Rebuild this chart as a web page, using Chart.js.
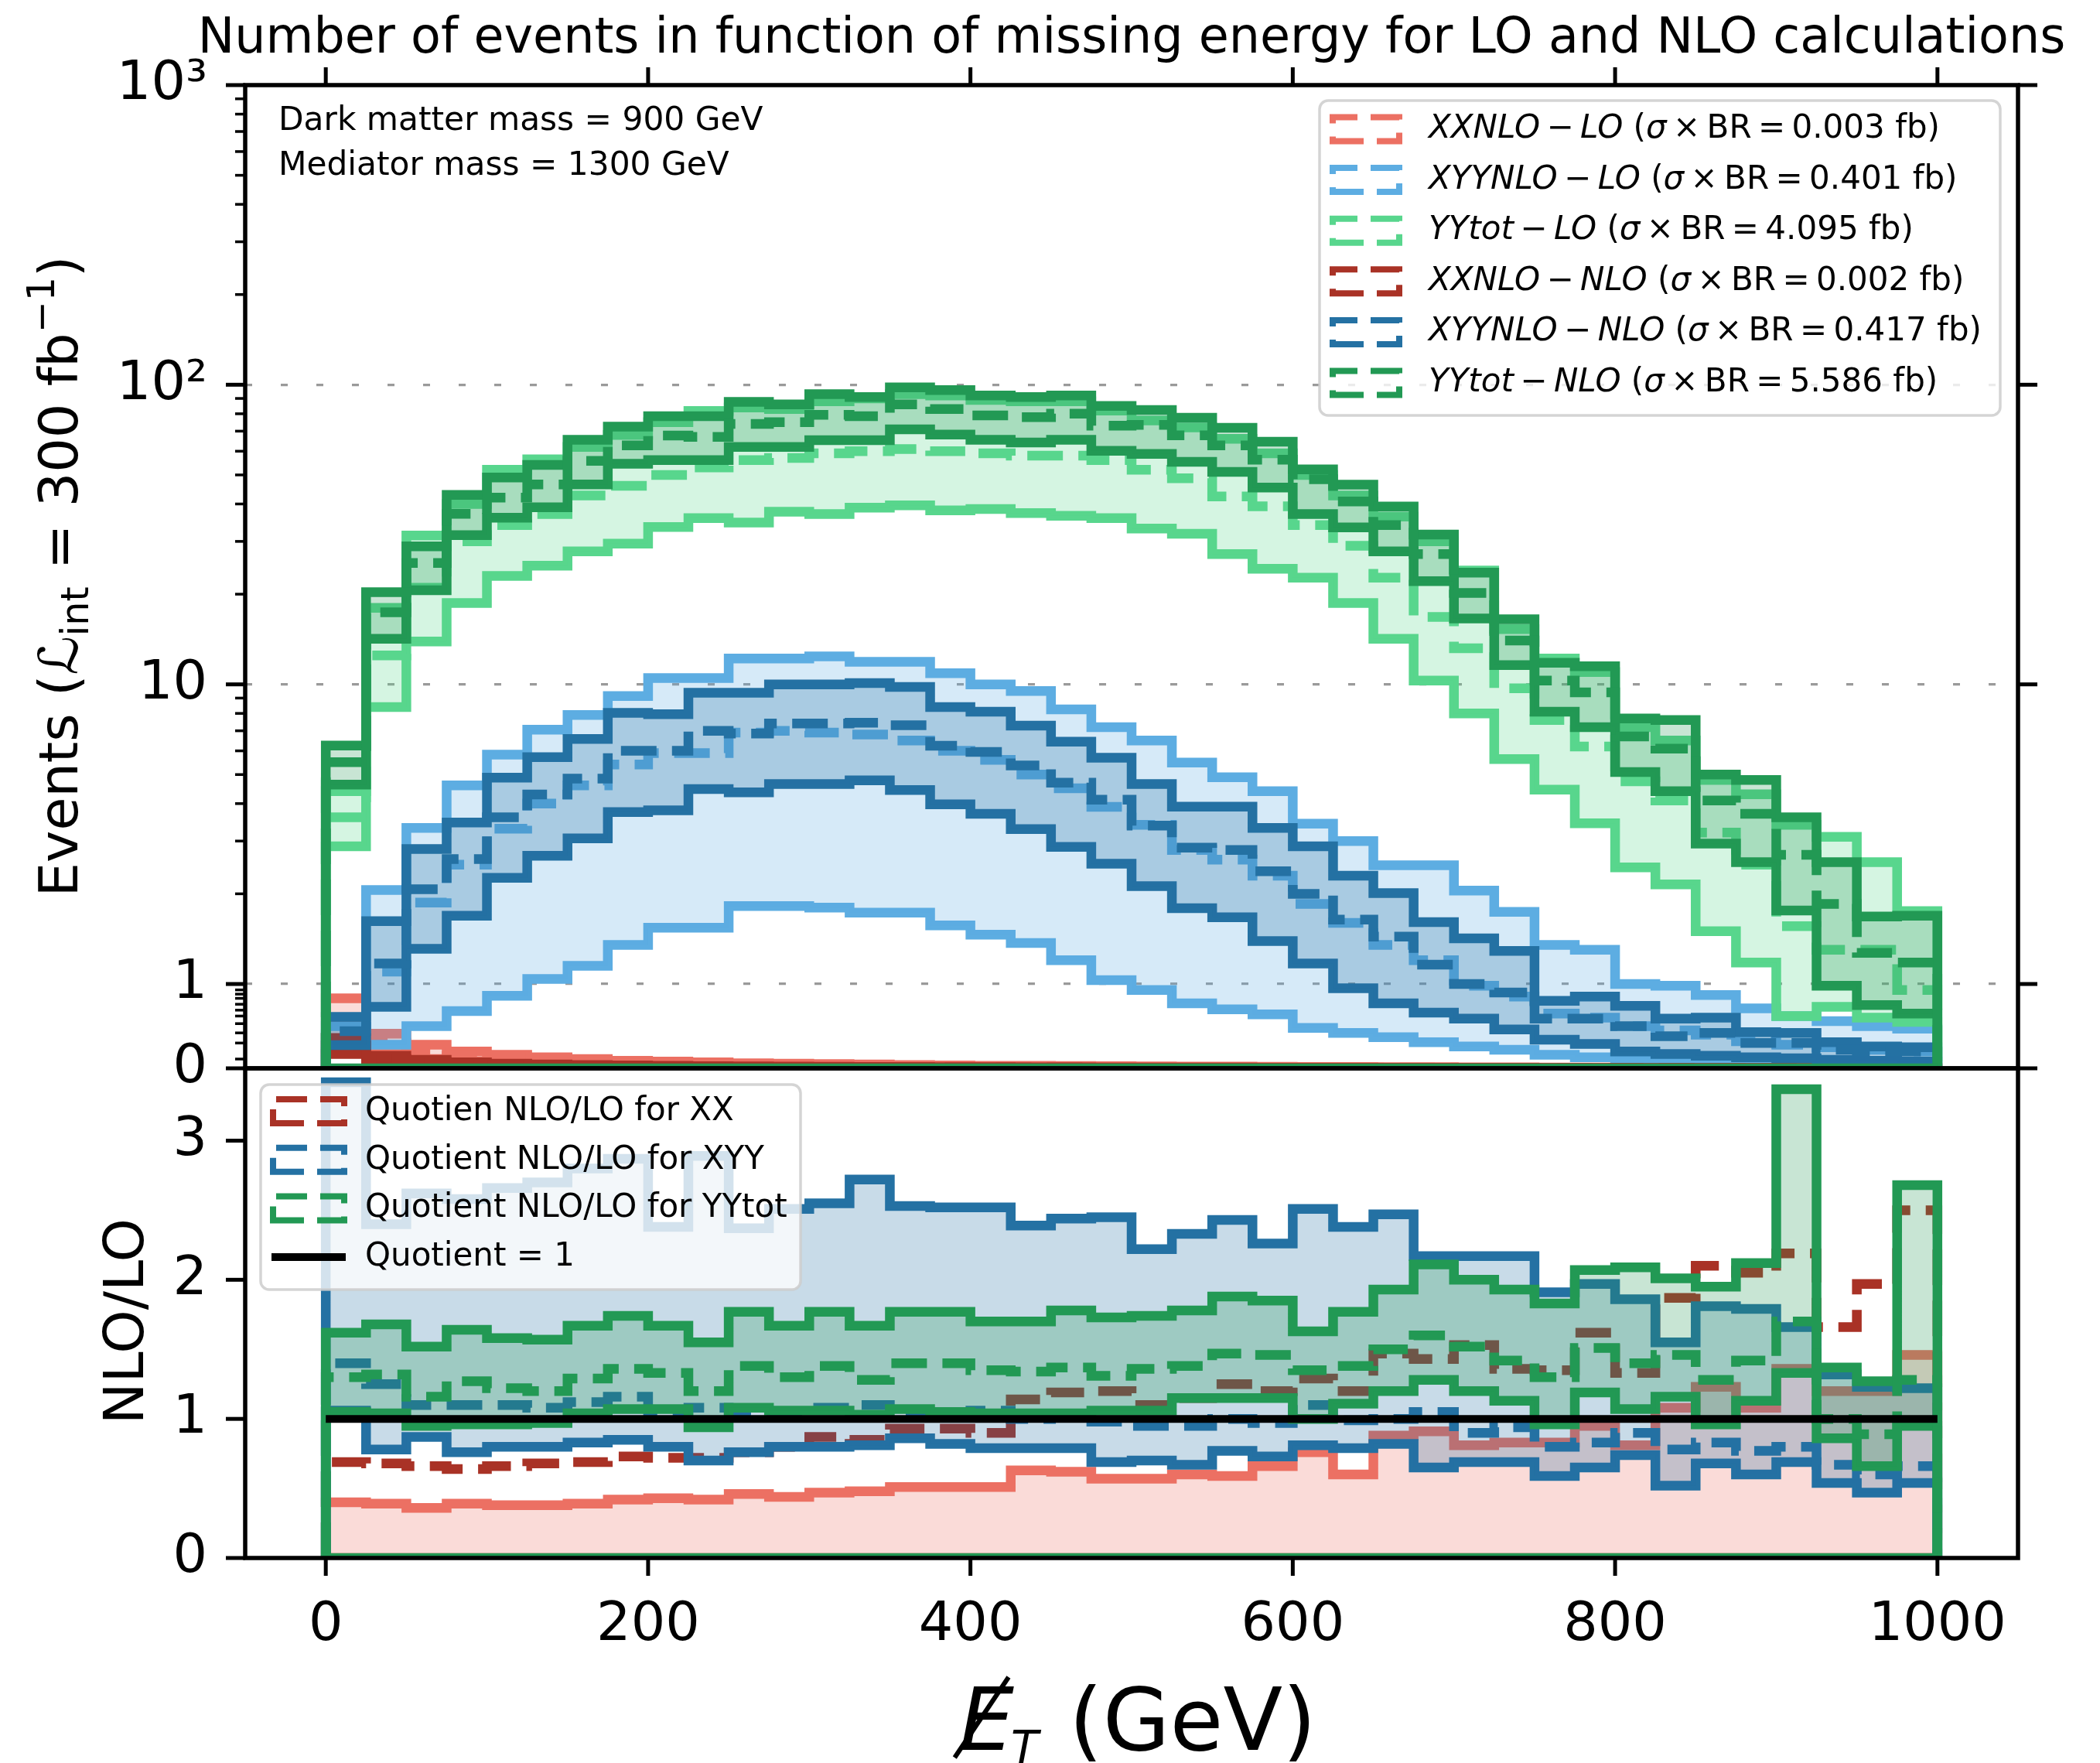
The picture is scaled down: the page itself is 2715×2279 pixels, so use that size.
<!DOCTYPE html>
<html><head><meta charset="utf-8">
<script src="https://cdn.jsdelivr.net/npm/chart.js@4.4.1/dist/chart.umd.min.js"></script>
<style>
html,body{margin:0;padding:0;background:#fff;}
body{width:2715px;height:2279px;position:relative;overflow:hidden;}
canvas{position:absolute;left:0;}
#topc{top:0;width:2715px;height:1480px;}
#botc{top:1280px;width:2715px;height:999px;}
</style></head><body>
<canvas id="topc" width="2715" height="1480"></canvas>
<canvas id="botc" width="2715" height="999"></canvas>
<script>
// ---------------- DATA ----------------
const BIN_EDGES = [0,25,50,75,100,125,150,175,200,225,250,275,300,325,350,375,400,425,450,475,500,525,550,575,600,625,650,675,700,725,750,775,800,825,850,875,900,925,950,975];
const X_END = 1000;
const X_TICKS = [0,200,400,600,800,1000];
const TOP_Y_TICKS = [0,1,10,100,1000];
const TOP_Y_LABELS = ['0','1','10','10\u00B2','10\u00B3'];
const GRID_VALUES = [1,10,100];
const BOT_Y_TICKS = [0,1,2,3];

const SERIES_NAMES = ['XXNLO','XYYNLO','YYtot'];
const ORDER_NAMES = ['LO','NLO'];
const XSEC_FB = ['0.003','0.401','4.095','0.002','0.417','5.586'];
const RATIO_LABELS = ['Quotien NLO/LO for XX','Quotient NLO/LO for XYY','Quotient NLO/LO for YYtot','Quotient = 1'];

// top panel: events per bin (hi / central / lo)
const XX_LO_HI  = [0.83,0.41,0.28,0.2,0.16,0.13,0.11,0.09,0.08,0.07,0.06,0.055,0.05,0.045,0.04,0.035,0.03,0.03,0.028,0.025,0.022,0.02,0.02,0.018,0.016,0.015,0.014,0.013,0.012,0.011,0.01,0.01,0.009,0.008,0.008,0.007,0.006,0.006,0.005,0.005];
const XX_LO_MID = [0.6,0.3,0.2,0.15,0.12,0.1,0.08,0.07,0.06,0.05,0.045,0.04,0.035,0.03,0.03,0.025,0.022,0.02,0.02,0.018,0.016,0.015,0.014,0.013,0.012,0.011,0.01,0.009,0.008,0.008,0.007,0.007,0.006,0.006,0.005,0.005,0.004,0.004,0.004,0.003];
const XX_LO_LO  = [0.35,0.17,0.11,0.08,0.065,0.055,0.045,0.04,0.035,0.03,0.025,0.022,0.02,0.018,0.016,0.014,0.012,0.011,0.01,0.009,0.008,0.008,0.007,0.007,0.006,0.006,0.005,0.005,0.005,0.004,0.004,0.004,0.003,0.003,0.003,0.003,0.002,0.002,0.002,0.002];

const XYY_LO_HI  = [0.5,2.06,3.32,4.6,5.83,7.06,7.9,9.14,10.5,10.5,12.2,12.2,12.4,11.9,11.9,10.9,10,9.5,8.25,7.2,6.5,5.48,4.9,4.4,3.43,3.0,2.49,2.49,2.05,1.74,1.35,1.3,1.0,0.98,0.87,0.71,0.62,0.56,0.5,0.47];
const XYY_LO_MID = [0.4,1.1,1.87,2.5,3.3,4.0,4.6,5.4,5.9,5.9,6.9,7.0,6.9,6.8,6.5,6.0,5.6,5.0,4.5,3.9,3.4,2.8,2.6,2.3,1.85,1.6,1.35,1.2,0.98,0.85,0.65,0.6,0.5,0.45,0.4,0.32,0.28,0.25,0.22,0.2];
const XYY_LO_LO  = [0.2,0.28,0.5,0.68,0.86,1.04,1.15,1.35,1.54,1.54,1.82,1.82,1.8,1.73,1.73,1.57,1.46,1.37,1.2,1.03,0.93,0.77,0.7,0.64,0.48,0.42,0.37,0.31,0.26,0.22,0.16,0.13,0.11,0.1,0.08,0.07,0.06,0.05,0.05,0.04];

const YY_LO_HI  = [4.4,18,31.4,40,52,56.4,62,68,75,81.8,84,83,88,90,93,92,89,88,88,82,76,72,66,59,50,42.7,36.3,30,24,15.3,12.2,11,7.2,6.5,4.8,4.3,3.4,3.1,2.55,1.75];
const YY_LO_MID = [3.6,12.5,21,30,34,37,42.7,46,50,53,56,57,59,60,61,60,59,58,58,56,52,48.7,42.4,39.3,34,29,22.7,16.8,13.2,9.7,7.6,6.2,4.75,4.1,3.2,2.5,1.56,1.3,1.3,0.93];
const YY_LO_LO  = [2.88,8.4,13.9,18.7,23,24.9,27.8,29.5,33.5,35.9,34.7,37.7,37,38.9,39.6,38.1,38.5,37.3,36.5,35.9,33.1,31.8,27.2,24.3,22.7,18.7,14.2,10.3,8.0,5.63,4.45,3.44,2.45,2.15,1.5,1.18,0.62,0.73,0.6,0.55];

const XX_NLO_HI  = [0.36,0.15,0.1,0.07,0.055,0.045,0.04,0.035,0.03,0.025,0.022,0.02,0.018,0.016,0.015,0.014,0.013,0.012,0.011,0.01,0.01,0.009,0.009,0.008,0.008,0.007,0.007,0.006,0.006,0.006,0.005,0.005,0.005,0.004,0.004,0.004,0.004,0.003,0.003,0.003];
const XX_NLO_MID = [0.27,0.11,0.075,0.055,0.042,0.035,0.03,0.026,0.022,0.019,0.017,0.015,0.014,0.013,0.012,0.011,0.01,0.009,0.009,0.008,0.008,0.007,0.007,0.007,0.006,0.006,0.005,0.005,0.005,0.005,0.004,0.004,0.004,0.004,0.003,0.003,0.003,0.003,0.002,0.002];
const XX_NLO_LO  = [0.17,0.07,0.05,0.04,0.03,0.025,0.02,0.018,0.016,0.014,0.012,0.011,0.01,0.009,0.008,0.008,0.007,0.007,0.006,0.006,0.005,0.005,0.005,0.004,0.004,0.004,0.004,0.003,0.003,0.003,0.003,0.003,0.002,0.002,0.002,0.002,0.002,0.002,0.001,0.001];

const XYY_NLO_HI  = [0.61,1.62,2.82,3.46,4.88,5.72,6.57,8.03,7.95,9.37,9.37,10,10,10.1,9.8,8.4,8.1,7.28,6.44,5.69,4.65,3.91,3.91,3.32,2.88,2.3,2.01,1.61,1.42,1.29,0.8,0.85,0.74,0.59,0.6,0.43,0.42,0.31,0.26,0.25];
const XYY_NLO_MID = [0.44,1.17,2.07,2.61,3.6,4.29,4.85,6.0,6.0,7.0,6.85,7.4,7.4,7.45,7.3,6.24,5.95,5.36,4.7,4.12,3.38,2.85,2.8,2.38,2.0,1.64,1.44,1.16,1.0,0.9,0.59,0.59,0.5,0.38,0.42,0.3,0.3,0.22,0.2,0.2];
const XYY_NLO_LO  = [0.275,0.73,1.31,1.69,2.26,2.68,3.06,3.75,3.8,4.47,4.36,4.65,4.65,4.78,4.44,3.98,3.7,3.29,2.87,2.52,2.12,1.79,1.67,1.39,1.17,0.95,0.77,0.66,0.59,0.46,0.34,0.29,0.2,0.17,0.15,0.13,0.12,0.1,0.09,0.08];

const YY_NLO_HI  = [6.25,20.3,28.9,42.9,49,54,65.5,72.5,78.5,78.5,87.6,86,93,91,98,96,92,91,92,85,82.4,77.6,71.8,64.5,52.2,46.4,39.2,31.6,23.6,16.5,11.8,11.5,7.7,7.6,5.0,4.8,3.6,2.55,1.68,1.69];
const YY_NLO_MID = [5.5,17.4,25.4,37.1,42,46.5,55.7,62.7,67.7,67,74,75,79.4,78.5,86,83,79,78,80,73,73.4,67.8,62.7,56.2,48.4,40.8,34,27.2,20.2,14,10.3,9.4,6.7,6.1,4.1,3.7,2.7,1.85,1.27,1.18];
const YY_NLO_LO  = [4.63,14.2,20.6,31.5,36,39,46.5,54.5,56,56,62,62,65.3,65.3,71,68.2,65.5,64.2,65.5,60.2,58.8,55.3,51.2,45.4,37,33.4,27.8,22.1,16.6,11.6,8.1,7.2,5.1,4.4,2.94,2.55,1.76,0.98,0.75,0.65];

// bottom panel: NLO/LO ratios (hi / central / lo)
const XX_R_HI  = [0.40,0.39,0.36,0.39,0.38,0.38,0.39,0.42,0.43,0.42,0.46,0.44,0.47,0.48,0.51,0.51,0.51,0.63,0.62,0.57,0.57,0.60,0.59,0.66,0.76,0.60,0.88,0.91,0.81,0.83,0.83,0.95,0.81,1.08,1.23,1.08,1.36,1.2,1.2,1.46];
const XX_R_MID = [0.69,0.68,0.66,0.64,0.66,0.68,0.69,0.73,0.72,0.72,0.76,0.8,0.87,0.85,0.93,0.93,0.9,1.14,1.19,1.2,1.1,1.15,1.25,1.2,1.29,1.2,1.47,1.43,1.53,1.36,1.35,1.62,1.33,1.87,2.1,2.05,2.19,1.66,1.97,2.5];
const XX_R_LO  = [0,0,0,0,0,0,0,0,0,0,0,0,0,0,0,0,0,0,0,0,0,0,0,0,0,0,0,0,0,0,0,0,0,0,0,0,0,0,0,0];

const XYY_R_HI  = [3.42,2.40,2.62,2.58,2.66,2.70,2.80,2.87,2.38,2.89,2.37,2.51,2.55,2.72,2.53,2.52,2.52,2.39,2.44,2.45,2.22,2.33,2.43,2.26,2.51,2.38,2.47,2.17,2.17,2.17,1.91,1.97,1.86,1.55,1.81,1.79,1.66,1.32,1.23,1.22];
const XYY_R_MID = [1.4,1.25,1.1,1.1,1.1,1.08,1.12,1.16,1.05,1.08,1.05,1.05,1.08,1.1,1.05,1.03,1.06,1.0,1.02,0.98,0.95,0.95,1.0,0.97,1.1,0.99,1.0,1.05,0.9,0.94,0.8,0.83,0.9,0.78,0.83,0.77,0.8,0.67,0.6,0.66];
const XYY_R_LO  = [1.06,0.78,0.87,0.76,0.80,0.80,0.83,0.85,0.80,0.70,0.76,0.80,0.80,0.81,0.86,0.82,0.79,0.79,0.79,0.69,0.70,0.67,0.77,0.73,0.81,0.79,0.82,0.65,0.69,0.69,0.59,0.65,0.74,0.52,0.68,0.60,0.69,0.54,0.47,0.54];

const YY_R_HI  = [1.62,1.68,1.52,1.64,1.58,1.57,1.67,1.74,1.67,1.55,1.77,1.67,1.77,1.67,1.77,1.77,1.70,1.70,1.78,1.73,1.74,1.78,1.88,1.85,1.63,1.77,1.93,2.11,2.0,1.93,1.83,2.07,2.09,2.01,1.95,2.12,3.37,1.37,1.27,2.68];
const YY_R_MID = [1.3,1.32,1.16,1.27,1.22,1.2,1.29,1.36,1.33,1.2,1.38,1.3,1.38,1.28,1.4,1.4,1.35,1.34,1.37,1.31,1.36,1.38,1.47,1.46,1.35,1.38,1.5,1.6,1.52,1.42,1.3,1.51,1.4,1.46,1.28,1.42,1.7,1.0,0.89,1.28];
const YY_R_LO  = [1.05,1.04,0.95,0.96,0.96,0.97,1.04,1.07,1.07,0.94,1.08,1.06,1.06,1.03,1.07,1.05,1.04,1.04,1.04,1.06,1.06,1.15,1.15,1.15,1.0,1.11,1.2,1.28,1.2,1.13,0.96,1.19,1.07,1.16,0.96,1.13,1.33,0.86,0.66,0.95];

// ---------------- STYLE ----------------
const FAM = '"DejaVu Sans"';
const COL = {xxLO:'#EC7063', xyyLO:'#5DADE2', yyLO:'#58D68D', xxNLO:'#A93226', xyyNLO:'#2471A3', yyNLO:'#229954'};
const LW = 12.5;
const DASH = [46, 20];
const LIN_DEC = 0.2814;  // decades occupied by the linear part [0,1] of the symlog axis
const TOP_CANVAS_Y = 0, BOT_CANVAS_Y = 1280;
const TOP_CANVAS_H = 1480, BOT_CANVAS_H = 999;
const X_AXIS_H = 160;
const AREA_TOP = {top: 110, bottom: 1381};
const AREA_BOT = {top: 1381, bottom: 2014};

Chart.defaults.font.family = FAM;

function hexA(hex, a){ const n = parseInt(hex.slice(1),16); return 'rgba('+((n>>16)&255)+','+((n>>8)&255)+','+(n&255)+','+a+')'; }
function symFwd(v){ return v <= 1 ? LIN_DEC*Math.max(v,0) : LIN_DEC + Math.log10(v); }
function symInv(f){ return f <= LIN_DEC ? f/LIN_DEC : Math.pow(10, f-LIN_DEC); }

class SymLogScale extends Chart.LinearScale {
  static id = 'symlogpanel';
  static defaults = {};
  determineDataLimits(){ this.min = this.options.min ?? 0; this.max = this.options.max ?? 1000; }
  buildTicks(){ return TOP_Y_TICKS.map(v => ({value: v})); }
  getPixelForValue(v){ return this.getPixelForDecimal(symFwd(v)/symFwd(this.max)); }
  getValueForPixel(p){ return symInv(this.getDecimalForPixel(p)*symFwd(this.max)); }
}
Chart.register(SymLogScale);

function stepPoints(vals){
  const pts = [{x: BIN_EDGES[0], y: 0}];
  for (let k = 0; k < vals.length; k++) pts.push({x: BIN_EDGES[k], y: vals[k]});
  pts.push({x: X_END, y: vals[vals.length-1]});
  pts.push({x: X_END, y: 0});
  return pts;
}
function addBand(list, lo, hi, mid, edge, midCol, fillCol){
  const common = {stepped: true, pointRadius: 0, borderWidth: LW, clip: 0, tension: 0, borderCapStyle: 'butt', borderJoinStyle: 'miter'};
  list.push(Object.assign({}, common, {data: stepPoints(lo), borderColor: edge, fill: false}));
  list.push(Object.assign({}, common, {data: stepPoints(hi), borderColor: edge, backgroundColor: hexA(fillCol, 0.25), fill: '-1'}));
  list.push(Object.assign({}, common, {data: stepPoints(mid), borderColor: midCol, borderDash: DASH, fill: false}));
}
function finalize(list){ list.forEach((d,i) => { d.order = -i; }); return list; }

const topSets = [];
addBand(topSets, XX_LO_LO, XX_LO_HI, XX_LO_MID, COL.xxLO, COL.xxLO, COL.xxLO);
addBand(topSets, XYY_LO_LO, XYY_LO_HI, XYY_LO_MID, COL.xyyLO, COL.xyyLO, COL.xyyLO);
addBand(topSets, YY_LO_LO, YY_LO_HI, YY_LO_MID, COL.yyLO, COL.yyLO, COL.yyLO);
addBand(topSets, XX_NLO_LO, XX_NLO_HI, XX_NLO_MID, COL.xxNLO, COL.xxNLO, COL.xxNLO);
addBand(topSets, XYY_NLO_LO, XYY_NLO_HI, XYY_NLO_MID, COL.xyyNLO, COL.xyyNLO, COL.xyyNLO);
addBand(topSets, YY_NLO_LO, YY_NLO_HI, YY_NLO_MID, COL.yyNLO, COL.yyNLO, COL.yyNLO);
topSets.push({data: [{x: BIN_EDGES[0], y: 0}, {x: X_END, y: 0}], borderColor: COL.yyNLO, borderWidth: LW, pointRadius: 0, clip: 0, fill: false});
finalize(topSets);

const botSets = [];
addBand(botSets, XX_R_LO, XX_R_HI, XX_R_MID, COL.xxLO, COL.xxNLO, COL.xxLO);
addBand(botSets, XYY_R_LO, XYY_R_HI, XYY_R_MID, COL.xyyNLO, COL.xyyNLO, COL.xyyNLO);
addBand(botSets, YY_R_LO, YY_R_HI, YY_R_MID, COL.yyNLO, COL.yyNLO, COL.yyNLO);
botSets.push({data: [{x: BIN_EDGES[0], y: 0}, {x: X_END, y: 0}], borderColor: COL.yyNLO, borderWidth: LW, pointRadius: 0, clip: 0, fill: false});
botSets.push({data: [{x: BIN_EDGES[0], y: 1}, {x: X_END, y: 1}], borderColor: '#000', borderWidth: 10, pointRadius: 0, clip: 0, fill: false});
finalize(botSets);

// ---------------- DRAW HELPERS ----------------
function seg(ctx,x1,y1,x2,y2){ ctx.beginPath(); ctx.moveTo(x1,y1); ctx.lineTo(x2,y2); ctx.stroke(); }
function roundRect(ctx,x,y,w,h,r){ ctx.beginPath(); ctx.moveTo(x+r,y); ctx.arcTo(x+w,y,x+w,y+h,r); ctx.arcTo(x+w,y+h,x,y+h,r); ctx.arcTo(x,y+h,x,y,r); ctx.arcTo(x,y,x+w,y,r); ctx.closePath(); }
function legendFrame(ctx,x,y,w,h){
  ctx.save(); roundRect(ctx,x,y,w,h,11);
  ctx.fillStyle = 'rgba(255,255,255,0.8)'; ctx.fill();
  ctx.lineWidth = 3.5; ctx.strokeStyle = 'rgba(204,204,204,0.85)'; ctx.stroke(); ctx.restore();
}
function dashedHandle(ctx,x,y,w,h,color){
  ctx.save(); ctx.strokeStyle = color; ctx.lineWidth = 8; ctx.setLineDash([40,17]);
  ctx.beginPath(); ctx.moveTo(x,y+h); ctx.lineTo(x+w,y+h); ctx.lineTo(x+w,y); ctx.lineTo(x,y); ctx.closePath(); ctx.stroke(); ctx.restore();
}
function drawSegs(ctx, segs, x, y){
  for (const s of segs){
    ctx.font = (s.it ? 'italic ' : '') + s.size + 'px ' + FAM;
    ctx.fillText(s.t, x, y + (s.dy || 0));
    x += ctx.measureText(s.t).width;
  }
  return x;
}
function segsWidth(ctx, segs){ let w = 0; for (const s of segs){ ctx.font = (s.it ? 'italic ' : '') + s.size + 'px ' + FAM; w += ctx.measureText(s.t).width; } return w; }

const LIN_MINOR = [0.93,0.88,0.83,0.76,0.69,0.62,0.53,0.42,0.30,0.11];
const TS = '\u2009';

const topDeco = {
  id: 'topDeco',
  afterDraw(chart){
    const ctx = chart.ctx, a = chart.chartArea, ys = chart.scales.y, xs = chart.scales.x;
    const O = TOP_CANVAS_Y;
    ctx.save();
    ctx.strokeStyle = '#000'; ctx.lineCap = 'butt';
    ctx.lineWidth = 5;
    for (const v of TOP_Y_TICKS){ const p = ys.getPixelForValue(v); seg(ctx, a.left-25, p, a.left, p); seg(ctx, a.right, p, a.right+25, p); }
    ctx.lineWidth = 3.5;
    const minors = LIN_MINOR.slice();
    for (const d of [1,10,100]) for (let m = 2; m <= 9; m++) minors.push(m*d);
    for (const v of minors){ const p = ys.getPixelForValue(v); seg(ctx, a.left-13, p, a.left, p); }
    ctx.lineWidth = 5;
    for (const v of X_TICKS){ const p = xs.getPixelForValue(v); seg(ctx, p, a.top-23, p, a.top); }
    ctx.lineWidth = 5.5;
    ctx.strokeRect(a.left, a.top, a.right-a.left, a.bottom-a.top);

    // title
    ctx.fillStyle = '#000';
    ctx.textAlign = 'center'; ctx.textBaseline = 'alphabetic';
    ctx.font = '63.5px ' + FAM;
    ctx.fillText('Number of events in function of missing energy for LO and NLO calculations', (a.left+a.right)/2, 68 - O);

    // annotation
    ctx.textAlign = 'left';
    ctx.font = '42.3px ' + FAM;
    ctx.fillText('Dark matter mass = 900 GeV', 360, 168 - O);
    ctx.fillText('Mediator mass = 1300 GeV', 360, 226 - O);

    // y title (rotated)
    ctx.save();
    ctx.translate(100, 745 - O); ctx.rotate(-Math.PI/2);
    ctx.textAlign = 'left'; ctx.textBaseline = 'alphabetic';
    const ysegs = [
      {t:'Events (', size:70}, {t:'\u2112', size:70, it:true}, {t:'int', size:49, dy:14},
      {t:' = 300 fb', size:70}, {t:'\u22121', size:49, dy:-30}, {t:')', size:70}
    ];
    drawSegs(ctx, ysegs, -segsWidth(ctx, ysegs)/2, 0);
    ctx.restore();

    // legend
    const cols = [COL.xxLO, COL.xyyLO, COL.yyLO, COL.xxNLO, COL.xyyNLO, COL.yyNLO];
    legendFrame(ctx, 1706, 130 - O, 880, 407);
    ctx.textAlign = 'left'; ctx.textBaseline = 'middle';
    for (let i = 0; i < 6; i++){
      const cy = 167 + 65.6*i - O;
      dashedHandle(ctx, 1723, cy-15.5, 86, 31, cols[i]);
      ctx.fillStyle = '#000';
      drawSegs(ctx, [
        {t: SERIES_NAMES[i%3], size:42, it:true}, {t: TS+'\u2212'+TS, size:42}, {t: ORDER_NAMES[Math.floor(i/3)], size:42, it:true},
        {t:' (', size:42}, {t:'\u03C3', size:42, it:true}, {t: TS+'\u00D7'+TS+'BR'+TS+'='+TS + XSEC_FB[i] + ' fb)', size:42}
      ], 1847, cy);
    }
    ctx.restore();
  }
};

const botDeco = {
  id: 'botDeco',
  afterDraw(chart){
    const ctx = chart.ctx, a = chart.chartArea, ys = chart.scales.y, xs = chart.scales.x;
    const O = BOT_CANVAS_Y;
    ctx.save();
    ctx.strokeStyle = '#000'; ctx.lineCap = 'butt';
    ctx.lineWidth = 5;
    for (const v of BOT_Y_TICKS){ const p = ys.getPixelForValue(v); seg(ctx, a.left-25, p, a.left, p); }
    for (const v of X_TICKS){ const p = xs.getPixelForValue(v); seg(ctx, p, a.bottom, p, a.bottom+23); }
    ctx.lineWidth = 5.5;
    ctx.strokeRect(a.left, a.top, a.right-a.left, a.bottom-a.top);

    // legend
    legendFrame(ctx, 337, 1402 - O, 698, 265);
    const hc = [COL.xxNLO, COL.xyyNLO, COL.yyNLO];
    ctx.textAlign = 'left'; ctx.textBaseline = 'middle'; ctx.fillStyle = '#000';
    for (let i = 0; i < 4; i++){
      const cy = 1437 - O + 62.7*i;
      if (i < 3) dashedHandle(ctx, 353, cy-16, 92, 31, hc[i]);
      else { ctx.save(); ctx.strokeStyle = '#000'; ctx.lineWidth = 10; seg(ctx, 351, cy, 447, cy); ctx.restore(); }
      ctx.font = '42px ' + FAM;
      ctx.fillText(RATIO_LABELS[i], 472, cy);
    }

    // y title
    ctx.save();
    ctx.translate(185, 1708 - O); ctx.rotate(-Math.PI/2);
    ctx.textAlign = 'center'; ctx.textBaseline = 'alphabetic';
    ctx.font = '72px ' + FAM;
    ctx.fillText('NLO/LO', 0, 0);
    ctx.restore();

    // x title:  E-slash_T (GeV)
    const base = 2262 - O;
    ctx.textAlign = 'left'; ctx.textBaseline = 'alphabetic';
    ctx.font = 'italic 112px ' + FAM; const wE = ctx.measureText('E').width;
    ctx.font = 'italic 58px ' + FAM; const wT = ctx.measureText('T').width;
    ctx.font = '112px ' + FAM; const wG = ctx.measureText(' (GeV)').width;
    const total = wE + wT + wG;
    const x0 = (a.left + a.right)/2 - total/2 + 8;
    ctx.font = 'italic 112px ' + FAM; ctx.fillText('E', x0, base);
    ctx.save(); ctx.lineWidth = 6; ctx.strokeStyle = '#000';
    seg(ctx, x0 + wE*0.9, base - 94, x0 - 6, base + 10); ctx.restore();
    ctx.font = 'italic 58px ' + FAM; ctx.fillText('T', x0 + wE - 4, base + 17);
    ctx.font = '112px ' + FAM; ctx.fillText(' (GeV)', x0 + wE + wT, base);
    ctx.restore();
  }
};

const tickFont = {family: FAM, size: 70};

const topChart = new Chart(document.getElementById('topc'), {
  type: 'line',
  data: {datasets: topSets},
  options: {
    responsive: false, animation: false, devicePixelRatio: 1, events: [],
    layout: {autoPadding: false, padding: {left: 0, top: AREA_TOP.top - TOP_CANVAS_Y, right: 106, bottom: TOP_CANVAS_H - (AREA_TOP.bottom - TOP_CANVAS_Y)}},
    plugins: {legend: {display: false}, tooltip: {enabled: false}, title: {display: false}},
    scales: {
      x: {type: 'linear', min: -50, max: 1050, display: false},
      y: {type: 'symlogpanel', min: 0, max: 1000, position: 'left',
          afterFit: s => { s.width = 317; },
          grid: {drawTicks: false, lineWidth: 3.2, color: c => (c.tick && GRID_VALUES.includes(c.tick.value)) ? '#9a9a9a' : 'rgba(0,0,0,0)'},
          border: {display: false, dash: [9, 37]},
          ticks: {padding: 49, color: '#000', font: tickFont, autoSkip: false,
                  callback: v => TOP_Y_LABELS[TOP_Y_TICKS.indexOf(v)]}}
    }
  },
  plugins: [topDeco]
});

const botChart = new Chart(document.getElementById('botc'), {
  type: 'line',
  data: {datasets: botSets},
  options: {
    responsive: false, animation: false, devicePixelRatio: 1, events: [],
    layout: {autoPadding: false, padding: {left: 0, top: AREA_BOT.top - BOT_CANVAS_Y, right: 106, bottom: BOT_CANVAS_H - (AREA_BOT.bottom - BOT_CANVAS_Y) - X_AXIS_H}},
    plugins: {legend: {display: false}, tooltip: {enabled: false}, title: {display: false}},
    scales: {
      x: {type: 'linear', min: -50, max: 1050, position: 'bottom',
          afterFit: s => { s.height = X_AXIS_H; },
          afterBuildTicks: s => { s.ticks = X_TICKS.map(v => ({value: v})); },
          grid: {display: false, drawTicks: false}, border: {display: false},
          ticks: {padding: 46, color: '#000', font: tickFont, autoSkip: false, maxRotation: 0, callback: v => String(v)}},
      y: {type: 'linear', min: 0, max: 3.52, position: 'left',
          afterFit: s => { s.width = 317; },
          afterBuildTicks: s => { s.ticks = BOT_Y_TICKS.map(v => ({value: v})); },
          grid: {display: false, drawTicks: false}, border: {display: false},
          ticks: {padding: 49, color: '#000', font: tickFont, autoSkip: false, callback: v => String(v)}}
    }
  },
  plugins: [botDeco]
});

// make sure the plot areas land exactly where the panels sit
function pinArea(chart, canvasY, want){
  for (let i = 0; i < 4; i++){
    const ca = chart.chartArea, p = chart.options.layout.padding;
    const dt = (want.top - canvasY) - ca.top, db = ca.bottom - (want.bottom - canvasY);
    if (Math.abs(dt) < 0.25 && Math.abs(db) < 0.25) return;
    p.top += dt; p.bottom += db;
    chart.update('none');
  }
}
pinArea(topChart, TOP_CANVAS_Y, AREA_TOP);
pinArea(botChart, BOT_CANVAS_Y, AREA_BOT);
</script>
</body></html>
